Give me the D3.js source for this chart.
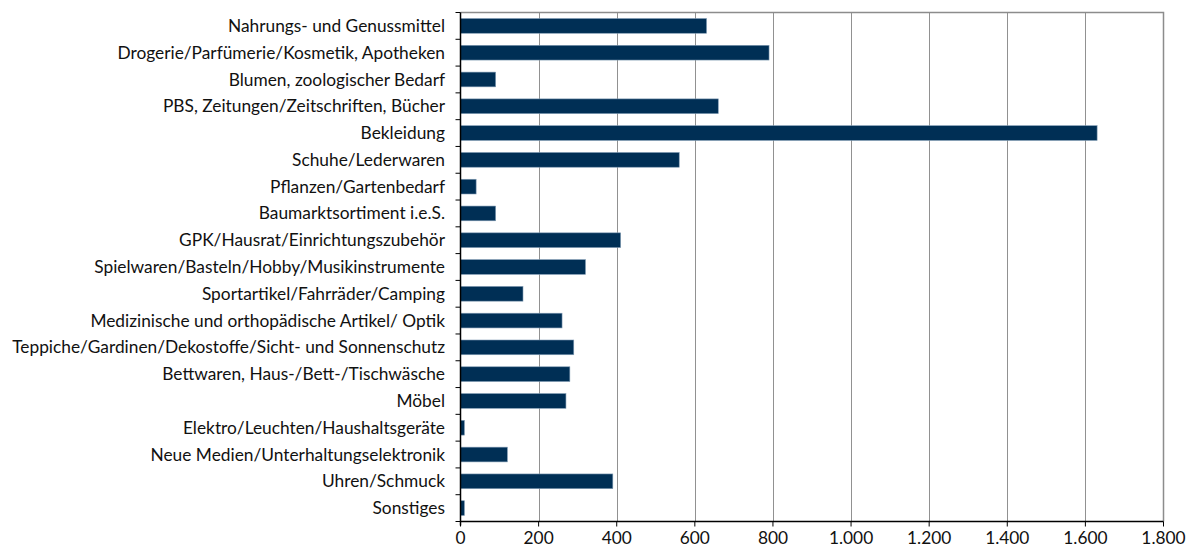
<!DOCTYPE html>
<html><head><meta charset="utf-8">
<script src="https://cdn.jsdelivr.net/npm/d3@7"></script>
<style>body{margin:0;background:#fff}svg{display:block}text{font-family:Lato,"Open Sans",sans-serif;fill:#111}</style>
</head><body><svg id="c" width="1194" height="549"></svg>
<script>
const categories = ["Nahrungs- und Genussmittel","Drogerie/Parfümerie/Kosmetik, Apotheken","Blumen, zoologischer Bedarf","PBS, Zeitungen/Zeitschriften, Bücher","Bekleidung","Schuhe/Lederwaren","Pflanzen/Gartenbedarf","Baumarktsortiment i.e.S.","GPK/Hausrat/Einrichtungszubehör","Spielwaren/Basteln/Hobby/Musikinstrumente","Sportartikel/Fahrräder/Camping","Medizinische und orthopädische Artikel/ Optik","Teppiche/Gardinen/Dekostoffe/Sicht- und Sonnenschutz","Bettwaren, Haus-/Bett-/Tischwäsche","Möbel","Elektro/Leuchten/Haushaltsgeräte","Neue Medien/Unterhaltungselektronik","Uhren/Schmuck","Sonstiges"];
const values = [630,790,90,660,1630,560,40,90,410,320,160,260,290,280,270,10,120,390,10];
const xTicks = [0,200,400,600,800,1000,1200,1400,1600,1800];
const xTickLabels = ["0","200","400","600","800","1.000","1.200","1.400","1.600","1.800"];

const svg = d3.select("#c");
const L = 460.5, R = 1163.5, T = 12.5, B = 521.5;
const x = d3.scaleLinear().domain([0,1800]).range([L,R]);
const y = d3.scaleBand().domain(categories).range([T,B]).paddingInner(0.45).paddingOuter(0.225);

// grid
svg.append("g").selectAll("line").data(xTicks.slice(1,-1)).join("line")
  .attr("x1",d=>Math.round(x(d))+0.5).attr("x2",d=>Math.round(x(d))+0.5)
  .attr("y1",T).attr("y2",B).attr("stroke","#222").attr("stroke-width",1).attr("stroke-dasharray","1,1");
// frame top/right
svg.append("path").attr("d",`M${L},${T}H${R}V${B}`).attr("fill","none").attr("stroke","#8c8c8c").attr("stroke-width",1.5);

// bars
svg.append("g").selectAll("rect").data(values).join("rect")
  .attr("x",x(0)).attr("y",(d,i)=>y(categories[i]))
  .attr("width",d=>x(d)-x(0)).attr("height",y.bandwidth())
  .attr("fill","#002f55").attr("stroke","#7f9ab3").attr("stroke-width",0.6);

// y axis
const yBounds = d3.range(categories.length+1).map(i=>T+i*(B-T)/categories.length);
svg.append("g").selectAll("line").data(yBounds).join("line")
  .attr("x1",L-5).attr("x2",L).attr("y1",d=>d).attr("y2",d=>d).attr("stroke","#000");
svg.append("line").attr("x1",L).attr("x2",L).attr("y1",T).attr("y2",B+4).attr("stroke","#000").attr("stroke-width",1.5);

const labels = svg.append("g").selectAll("text").data(categories).join("text")
  .attr("x",445).attr("y",d=>y(d)+y.bandwidth()/2).attr("dy","0.35em")
  .attr("text-anchor","end").style("font-size","15px").text(d=>d);
// fit longest label width to reference (~433px)
let maxW = 0; labels.each(function(){maxW=Math.max(maxW,this.getComputedTextLength());});
const fs = 15*433/maxW;
labels.style("font-size",fs+"px");

// x axis
svg.append("line").attr("x1",L).attr("x2",R).attr("y1",B).attr("y2",B).attr("stroke","#000").attr("stroke-width",1.5);
svg.append("g").selectAll("line").data(xTicks).join("line")
  .attr("x1",d=>x(d)).attr("x2",d=>x(d)).attr("y1",B).attr("y2",B+5).attr("stroke","#000");
svg.append("g").selectAll("text").data(xTicks).join("text")
  .attr("x",d=>x(d)).attr("y",544).attr("text-anchor","middle").style("font-size",fs+"px")
  .text((d,i)=>xTickLabels[i]);
</script></body></html>
